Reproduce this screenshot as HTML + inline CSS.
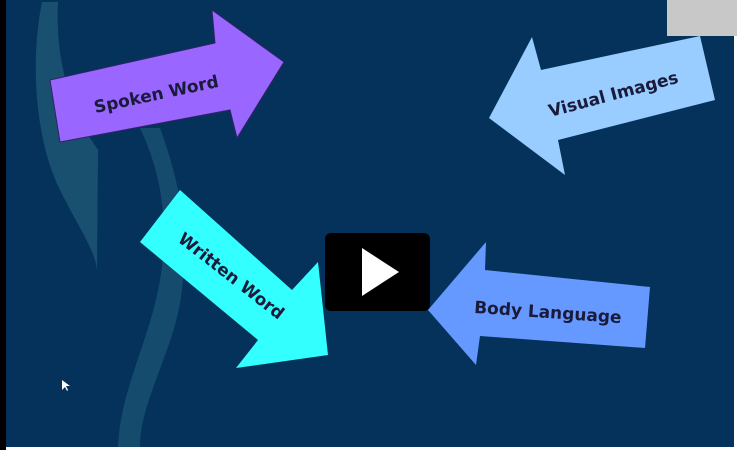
<!DOCTYPE html>
<html><head><style>
html,body{margin:0;padding:0;background:#fff}
.w{position:relative;width:737px;height:450px;overflow:hidden;background:#fff}
svg{position:absolute;left:0;top:0}
.t{font-family:"DejaVu Sans","Liberation Sans",sans-serif;font-weight:bold;font-size:17px;fill:#1a1a3a}
</style></head><body><div class="w">
<svg width="737" height="450" viewBox="0 0 737 450">
<rect x="0" y="0" width="737" height="448" fill="#04325b"/>
<rect x="0" y="0" width="6" height="450" fill="#000"/>
<rect x="6" y="447" width="731" height="3" fill="#fff"/>
<rect x="734" y="0" width="3" height="450" fill="#fff"/>
<path d="M42 2 C30 60 35 140 60 190 C80 230 95 250 97 270 L98 150 C70 110 55 60 58 2 Z" fill="#2b6a80" opacity="0.55"/>
<path d="M140 128 C160 170 170 220 160 280 C150 340 120 390 118 447 L140 447 C140 400 175 350 182 290 C190 220 175 170 160 128 Z" fill="#2b6a80" opacity="0.45"/>
<polygon points="60,142 50,80 215,43 212,10 284,62 237,138 230,110" fill="#9966ff" stroke="#332266" stroke-width="1"/>
<polygon points="140,242 180,190 292,290 318,262 328,355 236,368 258,340" fill="#33ffff"/>
<polygon points="700,36 715,100 558,140 565,175 489,118 532,37 541,70" fill="#99ccff"/>
<polygon points="486,242 485,270 650,287 645,348 480,336 476,365 428,310" fill="#6699ff"/>
<rect x="667" y="0" width="70" height="36" fill="#c8c8c8"/>
<text class="t" x="156" y="100" text-anchor="middle" transform="rotate(-12 156 93)">Spoken Word</text>
<text class="t" x="613" y="100" text-anchor="middle" transform="rotate(-15 613 93)">Visual Images</text>
<text class="t" x="232" y="282" text-anchor="middle" transform="rotate(38 232 275)">Written Word</text>
<text class="t" x="548" y="318" text-anchor="middle" transform="rotate(4 548 311)">Body Language</text>
<rect x="325" y="233" width="105" height="78" rx="6" fill="#000"/>
<polygon points="362,248 362,296 399,272" fill="#fff"/>
<polygon points="62,380 62,390 65,387 67,391 68,390 66,386 70,386" fill="#fff"/>
</svg></div></body></html>
